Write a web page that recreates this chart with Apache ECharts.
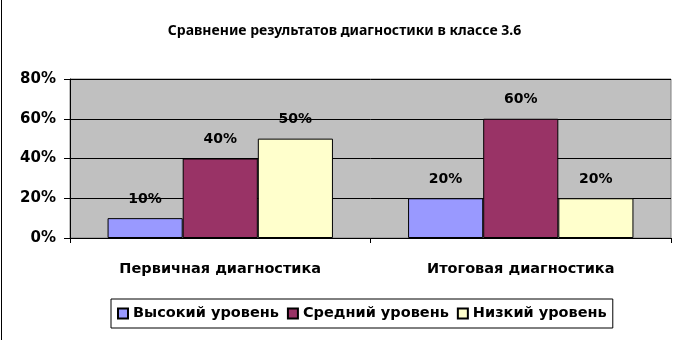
<!DOCTYPE html>
<html><head><meta charset="utf-8">
<script src="https://cdn.jsdelivr.net/npm/echarts@6/dist/echarts.min.js"></script>
<style>html,body{margin:0;padding:0;background:#fff}#c{width:689px;height:340px}</style>
</head><body><div id="c"></div>
<script>
var categories = ['Первичная диагностика', 'Итоговая диагностика'];
var seriesNames = ['Высокий уровень', 'Средний уровень', 'Низкий уровень'];
var high = [10, 20];
var mid = [40, 60];
var low = [50, 20];
var colors = ['#9999FF', '#993366', '#FFFFCC'];
var yTicks = [0, 20, 40, 60, 80];

var font = 'DejaVu Sans';
var chart = echarts.init(document.getElementById('c'), null, {renderer: 'canvas'});
function mk(name, data, color) {
  return {
    name: name, type: 'bar', data: data, barGap: '0%', barCategoryGap: '25%',
    itemStyle: {color: color, borderColor: '#000', borderWidth: 1},
    label: {show: true, position: 'top', distance: 12, formatter: '{c}%',
      fontFamily: font, fontWeight: 'bold', fontSize: 14, color: '#000'}
  };
}
chart.setOption({
  animation: false,
  title: {text: 'Сравнение результатов диагностики в классе 3.6', left: 'center', top: 19,
    textStyle: {fontFamily: 'Noto Sans', fontWeight: 'bold', fontSize: 14, color: '#000'}},
  grid: {left: 70, right: 18, top: 79, bottom: 102, show: true, backgroundColor: '#C0C0C0', borderColor: '#808080', borderWidth: 1},
  legend: {
    data: seriesNames, bottom: 12, left: 111, orient: 'horizontal',
    borderColor: '#000', borderWidth: 1, padding: [7, 6, 7, 6], itemGap: 8,
    itemWidth: 10, itemHeight: 10, icon: 'rect',
    textStyle: {fontFamily: font, fontWeight: 'bold', fontSize: 14.5, color: '#000', padding: [0, 0, 0, 0]}
  },
  xAxis: {
    type: 'category', data: categories,
    axisLine: {lineStyle: {color: '#000'}},
    axisTick: {show: true, length: 5, lineStyle: {color: '#000'}},
    axisLabel: {fontFamily: font, fontWeight: 'bold', fontSize: 14.5, color: '#000', margin: 24}
  },
  yAxis: {
    type: 'value', min: 0, max: 80, interval: 20,
    axisLine: {show: true, lineStyle: {color: '#000'}},
    axisTick: {show: true, length: 6, lineStyle: {color: '#000'}},
    axisLabel: {formatter: '{value}%', fontFamily: font, fontWeight: 'bold', fontSize: 15, color: '#000', margin: 14},
    splitLine: {show: true, lineStyle: {color: '#000', width: 1}}
  },
  graphic: [{type: 'line', shape: {x1: 1.5, y1: 0, x2: 1.5, y2: 340}, style: {stroke: '#000', lineWidth: 1}}],
  series: [mk(seriesNames[0], high, colors[0]), mk(seriesNames[1], mid, colors[1]), mk(seriesNames[2], low, colors[2])]
});
</script></body></html>
